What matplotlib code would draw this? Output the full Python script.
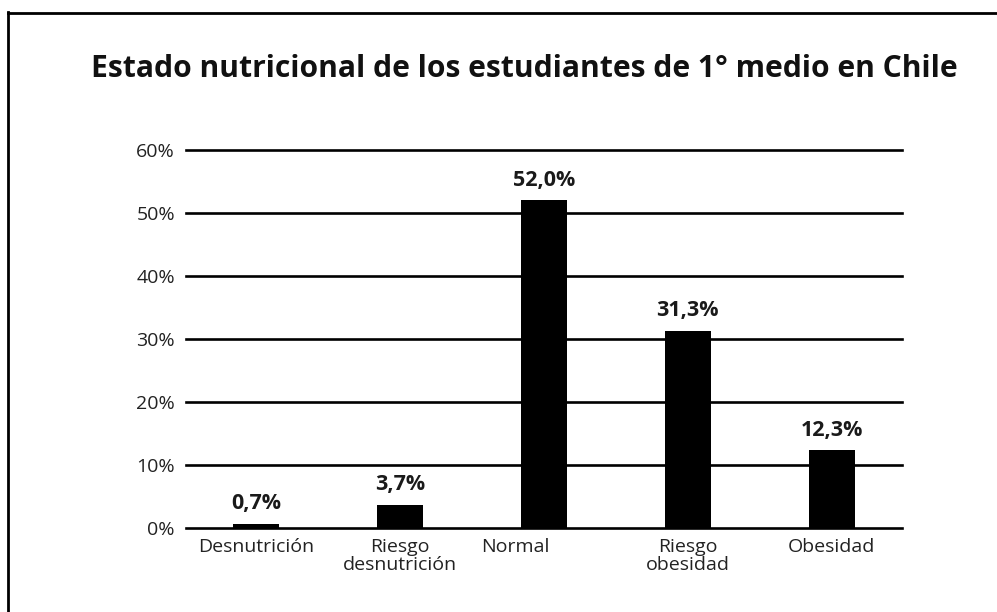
import matplotlib.pyplot as plt
import matplotlib.transforms as mtransforms
from matplotlib.lines import Line2D

# data
categorias = ['Desnutrición', 'Riesgo\ndesnutrición', 'Normal', 'Riesgo\nobesidad', 'Obesidad']
valores = [0.7, 3.7, 52.0, 31.3, 12.3]
etiquetas = ['0,7%', '3,7%', '52,0%', '31,3%', '12,3%']
yticks = [0, 10, 20, 30, 40, 50, 60]
ytick_labels = ['0%', '10%', '20%', '30%', '40%', '50%', '60%']

plt.rcParams['font.family'] = ['Open Sans', 'DejaVu Sans']
plt.rcParams['font.stretch'] = 'normal'

fig = plt.figure(figsize=(9.97, 6.12), dpi=100)
ax = fig.add_axes([0.1866, 0.1373, 0.7181, 0.6176])

x = list(range(len(categorias)))

# horizontal grid lines (drawn under the bars)
for t in yticks:
    ax.axhline(t, color='black', linewidth=1.9, zorder=1, clip_on=False)

ax.bar(x, valores, width=0.32, color='black', zorder=2)

for xi, v, lab in zip(x, valores, etiquetas):
    ax.annotate(lab, (xi, v), xytext=(0, 7), textcoords='offset points',
                ha='center', va='bottom', fontsize=15.5, fontweight='bold',
                fontstretch='normal', color='#1a1a1a')

ax.set_xlim(-0.49, 4.49)
ax.set_ylim(0, 60)
ax.set_yticks(yticks)
ax.set_yticklabels(ytick_labels, fontsize=14, color='#222222')
ax.set_xticks(x)
ax.set_xticklabels(categorias, fontsize=14, color='#222222', linespacing=1.05)
ax.tick_params(axis='both', length=0)
ax.tick_params(axis='y', pad=8)
ax.tick_params(axis='x', pad=7)
for s in ax.spines.values():
    s.set_visible(False)

# "Normal" label sits a bit left of its bar in the original
lbl = ax.get_xticklabels()[2]
lbl.set_transform(lbl.get_transform() + mtransforms.ScaledTranslation(-0.29, 0, fig.dpi_scale_trans))

fig.text(0.5255, 0.887, 'Estado nutricional de los estudiantes de 1° medio en Chile',
         ha='center', va='center', fontsize=21.6, fontweight='bold', color='#111111')

# outer frame (only left and top edges visible in the crop)
fig.add_artist(Line2D([8 / 997, 8 / 997], [0, 1 - 12 / 612], transform=fig.transFigure,
                      color='black', linewidth=2))
fig.add_artist(Line2D([8 / 997, 1], [1 - 13 / 612, 1 - 13 / 612], transform=fig.transFigure,
                      color='black', linewidth=2))

fig.savefig('out.png', dpi=100)
